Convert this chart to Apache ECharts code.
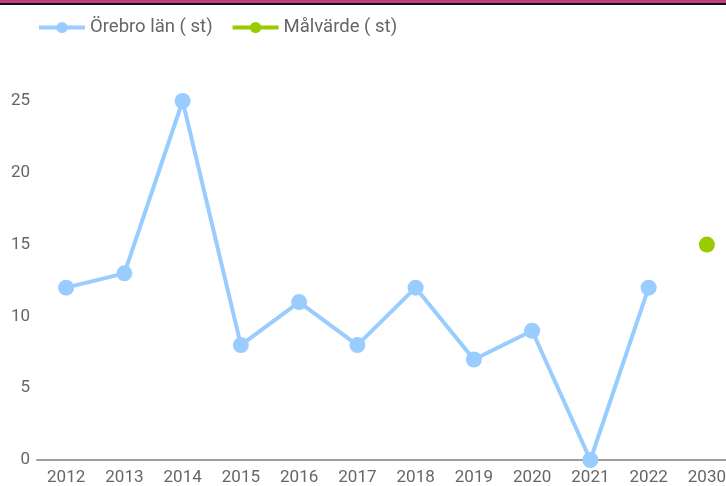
<!DOCTYPE html>
<html>
<head>
<meta charset="utf-8">
<script src="https://cdn.jsdelivr.net/npm/echarts@6/dist/echarts.min.js"></script>
<style>
  html, body { margin: 0; padding: 0; background: #fff; overflow: hidden; }
  #chart { width: 736px; height: 486px; }
</style>
</head>
<body>
<div id="chart"></div>
<script>
// Years shown on the x axis
const years = ['2012', '2013', '2014', '2015', '2016', '2017', '2018', '2019', '2020', '2021', '2022', '2030'];
// Recorded values for the county (none yet for 2030)
const orebroValues = [12, 13, 25, 8, 11, 8, 12, 7, 9, 0, 12, null];
// Target value for 2030
const targetValues = [null, null, null, null, null, null, null, null, null, null, null, 15];
const seriesNames = ['Örebro län ( st)', 'Målvärde ( st)'];

const chart = echarts.init(document.getElementById('chart'));
const textColor = '#666666';
const fontFamily = 'Roboto';

chart.setOption({
  animation: false,
  textStyle: { fontFamily: fontFamily },
  graphic: [
    { type: 'rect', shape: { x: 0, y: 0, width: 736, height: 3 }, style: { fill: '#c23f7d' } },
    { type: 'rect', shape: { x: 0, y: 3, width: 736, height: 2 }, style: { fill: '#111111' } }
  ],
  legend: {
    left: 32,
    top: 13,
    itemWidth: 46,
    itemHeight: 14,
    itemGap: 18,
    itemTextGap: 8,
    lineStyle: { width: 4 },
    textStyle: { color: textColor, fontSize: 18.5, fontFamily: fontFamily },
    data: seriesNames
  },
  grid: { left: 37, right: 0, top: 101, bottom: 26, containLabel: false },
  xAxis: {
    type: 'category',
    data: years,
    boundaryGap: true,
    axisLine: { lineStyle: { color: '#9e9e9e', width: 2 } },
    axisTick: { show: false },
    axisLabel: { color: textColor, fontSize: 17, margin: 9 }
  },
  yAxis: {
    type: 'value',
    min: 0,
    max: 25,
    interval: 5,
    axisLine: { show: false },
    axisTick: { show: false },
    splitLine: { show: false },
    axisLabel: { color: textColor, fontSize: 17, margin: 7 }
  },
  series: [
    {
      name: seriesNames[0],
      type: 'line',
      data: orebroValues,
      symbol: 'circle',
      symbolSize: 16,
      color: '#99ccff',
      lineStyle: { width: 4, color: '#99ccff' },
      itemStyle: { color: '#99ccff' }
    },
    {
      name: seriesNames[1],
      type: 'line',
      data: targetValues,
      symbol: 'circle',
      symbolSize: 16,
      color: '#99cc00',
      lineStyle: { width: 4, color: '#99cc00' },
      itemStyle: { color: '#99cc00' }
    }
  ]
});
</script>
</body>
</html>
